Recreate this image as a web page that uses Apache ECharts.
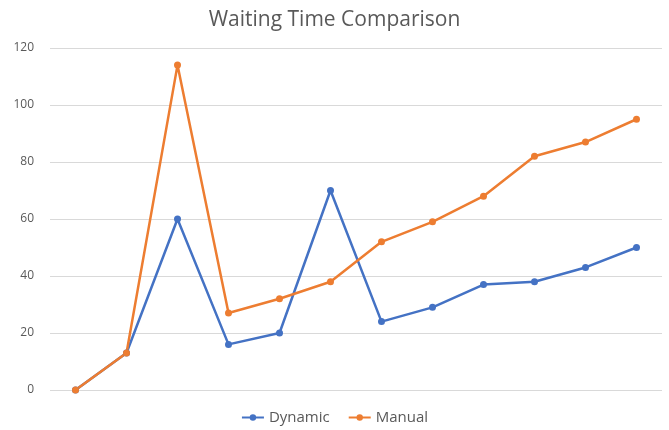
<!DOCTYPE html>
<html><head><meta charset="utf-8">
<script src="https://cdn.jsdelivr.net/npm/echarts@6/dist/echarts.min.js"></script>
<style>html,body{margin:0;padding:0;background:#fff}#c{width:669px;height:430px}</style>
</head><body><div id="c"></div>
<script>
const categories = ['1','2','3','4','5','6','7','8','9','10','11','12'];
const dynamicValues = [0, 13, 60, 16, 20, 70, 24, 29, 37, 38, 43, 50];
const manualValues = [0, 13, 114, 27, 32, 38, 52, 59, 68, 82, 87, 95];
const yTicks = [0, 20, 40, 60, 80, 100, 120];

const chart = echarts.init(document.getElementById('c'));
const font = '"Open Sans", "Noto Sans", sans-serif';
chart.setOption({
  animation: false,
  title: { text: 'Waiting Time Comparison', left: 'center', top: 5,
    textStyle: { fontFamily: font, fontSize: 21, fontWeight: 'normal', color: '#595959' } },
  legend: { bottom: 0, itemGap: 18, itemWidth: 22, itemHeight: 8,
    textStyle: { fontFamily: font, fontSize: 15, color: '#595959' },
    data: ['Dynamic', 'Manual'] },
  grid: { left: 50, right: 7, top: 48, bottom: 40 },
  xAxis: { type: 'category', data: categories, boundaryGap: true,
    axisLine: { show: false }, axisTick: { show: false }, axisLabel: { show: false } },
  yAxis: { type: 'value', min: yTicks[0], max: yTicks[yTicks.length-1], interval: 20,
    axisLine: { show: false }, axisTick: { show: false },
    axisLabel: { fontFamily: font, fontSize: 12, color: '#595959', margin: 16 },
    splitLine: { lineStyle: { color: '#d9d9d9', width: 1 } } },
  series: [
    { name: 'Dynamic', type: 'line', data: dynamicValues, color: '#4472C4',
      symbol: 'circle', symbolSize: 7, lineStyle: { width: 2.5 } },
    { name: 'Manual', type: 'line', data: manualValues, color: '#ED7D31',
      symbol: 'circle', symbolSize: 7, lineStyle: { width: 2.5 } }
  ]
});
</script></body></html>
